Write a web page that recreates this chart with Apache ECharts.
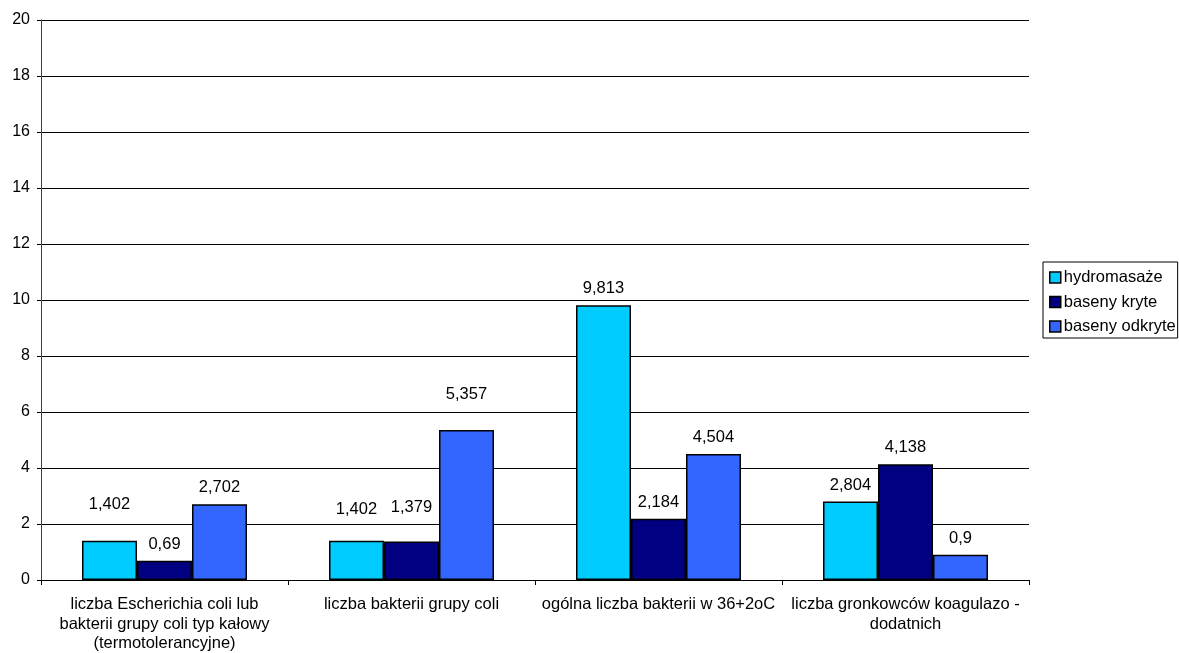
<!DOCTYPE html>
<html>
<head>
<meta charset="utf-8">
<script src="https://cdn.jsdelivr.net/npm/echarts@6/dist/echarts.min.js"></script>
<style>
html,body{margin:0;padding:0;background:#fff;}
#chart{width:1179px;height:653px;}
</style>
</head>
<body>
<div id="chart"></div>
<script>
var categories = [
  "liczba Escherichia coli lub\nbakterii grupy coli typ kałowy\n(termotolerancyjne)",
  "liczba bakterii grupy coli",
  "ogólna liczba bakterii w 36+2oC",
  "liczba gronkowców koagulazo -\ndodatnich"
];
var seriesNames = ["hydromasaże", "baseny kryte", "baseny odkryte"];
var hydromasaze = [1.402, 1.402, 9.813, 2.804];
var basenyKryte = [0.69, 1.379, 2.184, 4.138];
var basenyOdkryte = [2.702, 5.357, 4.504, 0.9];
var yTicks = [0, 2, 4, 6, 8, 10, 12, 14, 16, 18, 20];

var colors = ["#00CCFF", "#000080", "#3366FF"];
var allValues = [hydromasaze, basenyKryte, basenyOdkryte];
// extra vertical lift (px) of individual data labels, as placed in the original
var labelLift = [[20, 15, 0, 0], [0, 17, 0, 0], [0, 19, 0, 0]];

var FONT = "Liberation Sans, Arial, sans-serif";
var FS = 16.5;
function fmt(v) { return String(v).replace('.', ','); }

var series = allValues.map(function (vals, si) {
  return {
    name: seriesNames[si],
    type: 'bar',
    barWidth: 55,
    barGap: '0%',
    itemStyle: { color: colors[si], borderColor: '#000', borderWidth: 1.5 },
    label: {
      show: true, position: 'top', distance: 8,
      color: '#000', fontFamily: FONT, fontSize: FS,
      formatter: function (p) { return fmt(p.value); }
    },
    data: vals.map(function (v, ci) {
      var lift = labelLift[si][ci];
      var d = { value: v };
      if (lift) d.label = { offset: [0, -lift] };
      return d;
    })
  };
});

var chart = echarts.init(document.getElementById('chart'));
chart.setOption({
  animation: false,
  backgroundColor: '#fff',
  grid: { left: 41, right: 150, top: 20, bottom: 73, containLabel: false, outerBoundsMode: 'none' },
  legend: {
    orient: 'vertical',
    left: 1043, top: 262,
    padding: [7, 2, 3, 6],
    itemGap: 7.5,
    itemWidth: 11, itemHeight: 11,
    borderColor: '#000', borderWidth: 1,
    icon: 'rect',
    itemStyle: { borderColor: '#000', borderWidth: 1.5 },
    textStyle: { color: '#000', fontFamily: FONT, fontSize: FS, padding: [0, 0, 0, -2] },
    data: seriesNames
  },
  xAxis: {
    type: 'category',
    data: categories,
    axisLine: { lineStyle: { color: '#000', width: 1 } },
    axisTick: { show: true, length: 5, inside: false, lineStyle: { color: '#000' } },
    axisLabel: {
      interval: 0, margin: 15, color: '#000',
      fontFamily: FONT, fontSize: FS, lineHeight: 19.5, align: 'center'
    },
    splitLine: { show: false }
  },
  yAxis: {
    type: 'value',
    min: yTicks[0], max: yTicks[yTicks.length - 1], interval: 2,
    axisLine: { show: true, lineStyle: { color: '#404040', width: 1 } },
    axisTick: { show: true, length: 4, lineStyle: { color: '#000' } },
    axisLabel: { margin: 11, color: '#000', fontFamily: FONT, fontSize: 16 },
    splitLine: { show: true, lineStyle: { color: '#000', width: 1 } }
  },
  series: series
});
</script>
</body>
</html>
